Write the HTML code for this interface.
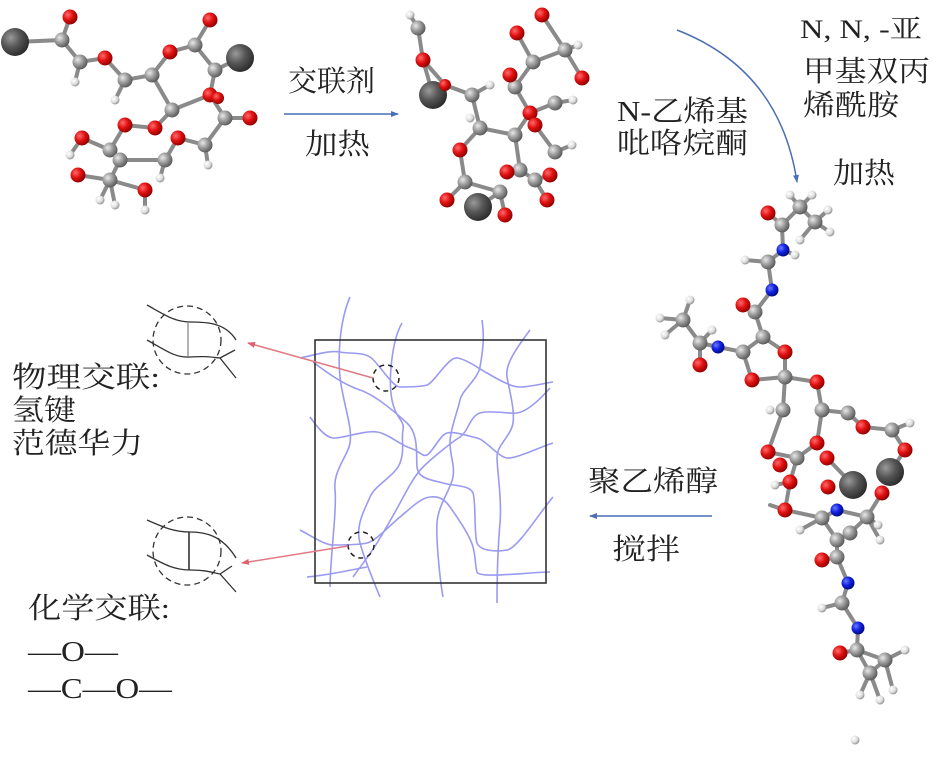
<!DOCTYPE html>
<html><head><meta charset="utf-8"><style>
html,body{margin:0;padding:0;background:#fff}
svg{display:block}
text{font-family:"Liberation Serif","Noto Serif CJK SC",serif;fill:#222}
</style></head><body>
<svg width="947" height="761" viewBox="0 0 947 761" xmlns="http://www.w3.org/2000/svg">
<defs>
<radialGradient id="gO" cx="35%" cy="35%" r="70%"><stop offset="0" stop-color="#ff6b6b"/><stop offset="0.5" stop-color="#e01010"/><stop offset="1" stop-color="#8a0000"/></radialGradient>
<radialGradient id="gC" cx="35%" cy="35%" r="70%"><stop offset="0" stop-color="#e8e8e8"/><stop offset="0.5" stop-color="#9a9a9a"/><stop offset="1" stop-color="#555"/></radialGradient>
<radialGradient id="gB" cx="35%" cy="35%" r="70%"><stop offset="0" stop-color="#999"/><stop offset="0.5" stop-color="#555"/><stop offset="1" stop-color="#2a2a2a"/></radialGradient>
<radialGradient id="gH" cx="35%" cy="35%" r="70%"><stop offset="0" stop-color="#fff"/><stop offset="0.6" stop-color="#ddd"/><stop offset="1" stop-color="#888"/></radialGradient>
<radialGradient id="gN" cx="35%" cy="35%" r="70%"><stop offset="0" stop-color="#6b7bff"/><stop offset="0.5" stop-color="#1020e0"/><stop offset="1" stop-color="#00087a"/></radialGradient>
<marker id="ab" markerWidth="8" markerHeight="8" refX="7" refY="4" orient="auto" markerUnits="userSpaceOnUse"><path d="M0,1 L8,4 L0,7 z" fill="#4a6fb5"/></marker>
<marker id="ar" markerWidth="8" markerHeight="8" refX="7" refY="4" orient="auto" markerUnits="userSpaceOnUse"><path d="M0,1 L8,4 L0,7 z" fill="#e06070"/></marker>
</defs>

<!-- Molecule 1 -->
<g stroke="#8a8a8a" stroke-width="4" stroke-linecap="round">
<polyline fill="none" points="15,42 62,40 70,17"/>
<polyline fill="none" points="62,40 80,62 105,58 125,80 152,75 170,52 195,45 210,20"/>
<polyline fill="none" points="195,45 215,70 240,58"/>
<polyline fill="none" points="215,70 210,95 225,118 250,118"/>
<polyline fill="none" points="152,75 172,110 155,128 125,125 110,150 82,138"/>
<polyline fill="none" points="172,110 210,95"/>
<polyline fill="none" points="225,118 205,145 178,138 165,160 120,160 110,150"/>
<polyline fill="none" points="120,160 110,180 78,175"/>
<polyline fill="none" points="110,180 145,190"/>
<line x1="80" y1="62" x2="75" y2="82"/><line x1="125" y1="80" x2="115" y2="100"/><line x1="205" y1="145" x2="208" y2="165"/><line x1="165" y1="160" x2="160" y2="178"/><line x1="110" y1="180" x2="100" y2="200"/><line x1="110" y1="180" x2="115" y2="205"/><line x1="82" y1="138" x2="70" y2="155"/><line x1="145" y1="190" x2="145" y2="210"/>
</g>
<g>
<circle cx="15" cy="42" r="14" fill="url(#gB)"/><circle cx="240" cy="58" r="14" fill="url(#gB)"/>
<g fill="url(#gH)"><circle cx="75" cy="82" r="4.5"/><circle cx="115" cy="100" r="4.5"/><circle cx="208" cy="165" r="4.5"/><circle cx="160" cy="178" r="4.5"/><circle cx="100" cy="200" r="4.5"/><circle cx="115" cy="205" r="4.5"/><circle cx="70" cy="155" r="4.5"/><circle cx="145" cy="210" r="4.5"/></g>
<g fill="url(#gC)"><circle cx="62" cy="40" r="7.5"/><circle cx="80" cy="62" r="7.5"/><circle cx="125" cy="80" r="7.5"/><circle cx="152" cy="75" r="7.5"/><circle cx="195" cy="45" r="7.5"/><circle cx="215" cy="70" r="7.5"/><circle cx="225" cy="118" r="7.5"/><circle cx="172" cy="110" r="7.5"/><circle cx="110" cy="150" r="7.5"/><circle cx="120" cy="160" r="7.5"/><circle cx="165" cy="160" r="7.5"/><circle cx="205" cy="145" r="7.5"/><circle cx="110" cy="180" r="7.5"/></g>
<g fill="url(#gO)"><circle cx="70" cy="17" r="7.5"/><circle cx="105" cy="58" r="7.5"/><circle cx="170" cy="52" r="7.5"/><circle cx="210" cy="20" r="7.5"/><circle cx="210" cy="95" r="7.5"/><circle cx="250" cy="118" r="7.5"/><circle cx="155" cy="128" r="7.5"/><circle cx="125" cy="125" r="7.5"/><circle cx="82" cy="138" r="7.5"/><circle cx="178" cy="138" r="7.5"/><circle cx="78" cy="175" r="7.5"/><circle cx="145" cy="190" r="7.5"/><circle cx="218" cy="98" r="6"/></g>
</g>

<!-- Molecule 2 -->
<g stroke="#8a8a8a" stroke-width="4" stroke-linecap="round">
<polyline fill="none" points="410,15 418,28 423,60 433,95"/>
<polyline fill="none" points="423,60 445,85 472,95 490,85"/>
<polyline fill="none" points="472,95 480,128 460,150 465,182 447,200"/>
<polyline fill="none" points="465,182 500,192 505,215"/>
<polyline fill="none" points="500,192 478,207"/>
<polyline fill="none" points="480,128 515,135 530,113 515,87 510,75"/>
<polyline fill="none" points="515,87 533,62 517,33"/>
<polyline fill="none" points="533,62 565,50 542,15"/>
<polyline fill="none" points="565,50 582,78"/><line x1="565" y1="50" x2="578" y2="45"/>
<polyline fill="none" points="530,113 555,103 573,100"/>
<polyline fill="none" points="535,125 555,152 572,145"/>
<polyline fill="none" points="515,135 520,170 535,180 550,175"/>
<polyline fill="none" points="535,180 547,200"/><line x1="520" y1="170" x2="507" y2="172"/>
</g>
<g>
<circle cx="433" cy="95" r="14" fill="url(#gB)"/><circle cx="478" cy="207" r="14" fill="url(#gB)"/>
<g fill="url(#gH)"><circle cx="410" cy="15" r="4.5"/><circle cx="490" cy="85" r="4.5"/><circle cx="578" cy="45" r="4.5"/><circle cx="573" cy="100" r="4.5"/><circle cx="572" cy="145" r="4.5"/><circle cx="470" cy="118" r="4.5"/></g>
<g fill="url(#gC)"><circle cx="418" cy="28" r="7.5"/><circle cx="472" cy="95" r="7.5"/><circle cx="480" cy="128" r="7.5"/><circle cx="515" cy="87" r="7.5"/><circle cx="533" cy="62" r="7.5"/><circle cx="565" cy="50" r="7.5"/><circle cx="555" cy="103" r="7.5"/><circle cx="515" cy="135" r="7.5"/><circle cx="555" cy="152" r="7.5"/><circle cx="465" cy="182" r="7.5"/><circle cx="500" cy="192" r="7.5"/><circle cx="520" cy="170" r="7.5"/><circle cx="535" cy="180" r="7.5"/></g>
<g fill="url(#gO)"><circle cx="423" cy="60" r="7.5"/><circle cx="445" cy="85" r="6"/><circle cx="510" cy="75" r="7.5"/><circle cx="517" cy="33" r="7.5"/><circle cx="542" cy="15" r="7.5"/><circle cx="582" cy="78" r="7.5"/><circle cx="530" cy="113" r="7.5"/><circle cx="535" cy="125" r="7.5"/><circle cx="460" cy="150" r="7.5"/><circle cx="447" cy="200" r="7.5"/><circle cx="505" cy="215" r="7.5"/><circle cx="507" cy="172" r="7.5"/><circle cx="550" cy="175" r="7.5"/><circle cx="547" cy="200" r="7.5"/></g>
</g>

<!-- Molecule 3 -->
<g stroke="#8a8a8a" stroke-width="4" stroke-linecap="round" fill="none">
<polyline points="768,213 782,225 800,207 815,222 800,240"/>
<line x1="800" y1="207" x2="790" y2="195"/><line x1="800" y1="207" x2="812" y2="195"/><line x1="815" y1="222" x2="828" y2="210"/><line x1="815" y1="222" x2="830" y2="232"/>
<polyline points="782,225 783,250 768,262 745,260"/><line x1="783" y1="250" x2="795" y2="255"/>
<polyline points="768,262 772,290 755,312 743,305"/>
<polyline points="755,312 763,337 743,352 718,347 700,343 683,320"/>
<line x1="700" y1="343" x2="700" y2="365"/><line x1="683" y1="320" x2="660" y2="318"/><line x1="683" y1="320" x2="690" y2="300"/><line x1="683" y1="320" x2="665" y2="335"/><line x1="700" y1="343" x2="712" y2="330"/>
<polyline points="743,352 752,380 785,377 785,352 763,337"/>
<polyline points="785,377 817,382 822,410 848,413 863,427 892,430 905,450 890,472"/>
<line x1="892" y1="430" x2="910" y2="423"/>
<polyline points="785,377 783,410 768,452 797,458 817,443 822,410"/>
<polyline points="797,458 790,482 785,510 822,518 837,510 867,517 850,533 837,540 822,518"/>
<polyline points="827,458 853,485"/><polyline points="882,493 867,517"/>
<polyline points="837,540 837,557 822,560"/><polyline points="837,557 848,583 842,603 822,608"/>
<polyline points="842,603 858,628 857,650 840,653"/>
<polyline points="857,650 885,660 870,673 857,650"/>
<line x1="885" y1="660" x2="905" y2="650"/><line x1="885" y1="660" x2="893" y2="690"/><line x1="870" y1="673" x2="860" y2="695"/><line x1="870" y1="673" x2="880" y2="700"/>
<line x1="790" y1="482" x2="775" y2="485"/><line x1="785" y1="510" x2="770" y2="505"/>
<line x1="867" y1="517" x2="880" y2="540"/><line x1="867" y1="517" x2="878" y2="525"/><line x1="822" y1="518" x2="800" y2="530"/>
</g>
<g>
<circle cx="853" cy="485" r="14" fill="url(#gB)"/><circle cx="890" cy="472" r="14" fill="url(#gB)"/>
<g fill="url(#gH)"><circle cx="790" cy="195" r="4.5"/><circle cx="812" cy="195" r="4.5"/><circle cx="828" cy="210" r="4.5"/><circle cx="830" cy="232" r="4.5"/><circle cx="800" cy="240" r="4.5"/><circle cx="795" cy="255" r="4.5"/><circle cx="745" cy="260" r="4.5"/><circle cx="660" cy="318" r="4.5"/><circle cx="690" cy="300" r="4.5"/><circle cx="665" cy="335" r="4.5"/><circle cx="712" cy="330" r="4.5"/><circle cx="910" cy="423" r="4.5"/><circle cx="880" cy="540" r="4.5"/><circle cx="878" cy="525" r="4.5"/><circle cx="800" cy="530" r="4.5"/><circle cx="822" cy="608" r="4.5"/><circle cx="905" cy="650" r="4.5"/><circle cx="893" cy="690" r="4.5"/><circle cx="860" cy="695" r="4.5"/><circle cx="880" cy="700" r="4.5"/><circle cx="775" cy="485" r="4.5"/><circle cx="770" cy="410" r="4.5"/><circle cx="855" cy="740" r="4.5"/></g>
<g fill="url(#gC)"><circle cx="782" cy="225" r="7.5"/><circle cx="800" cy="207" r="7.5"/><circle cx="815" cy="222" r="7.5"/><circle cx="768" cy="262" r="7.5"/><circle cx="755" cy="312" r="7.5"/><circle cx="763" cy="337" r="7.5"/><circle cx="743" cy="352" r="7.5"/><circle cx="700" cy="343" r="7.5"/><circle cx="683" cy="320" r="7.5"/><circle cx="785" cy="377" r="7.5"/><circle cx="783" cy="410" r="7.5"/><circle cx="822" cy="410" r="7.5"/><circle cx="848" cy="413" r="7.5"/><circle cx="892" cy="430" r="7.5"/><circle cx="797" cy="458" r="7.5"/><circle cx="822" cy="518" r="7.5"/><circle cx="867" cy="517" r="7.5"/><circle cx="850" cy="533" r="7.5"/><circle cx="837" cy="540" r="7.5"/><circle cx="837" cy="557" r="7.5"/><circle cx="842" cy="603" r="7.5"/><circle cx="857" cy="650" r="7.5"/><circle cx="885" cy="660" r="7.5"/><circle cx="870" cy="673" r="7.5"/></g>
<g fill="url(#gO)"><circle cx="768" cy="213" r="7.5"/><circle cx="743" cy="305" r="7.5"/><circle cx="700" cy="365" r="7.5"/><circle cx="752" cy="380" r="7.5"/><circle cx="785" cy="352" r="7.5"/><circle cx="817" cy="382" r="7.5"/><circle cx="863" cy="427" r="7.5"/><circle cx="905" cy="450" r="7.5"/><circle cx="882" cy="493" r="7.5"/><circle cx="768" cy="452" r="7.5"/><circle cx="817" cy="443" r="7.5"/><circle cx="827" cy="458" r="7.5"/><circle cx="790" cy="482" r="7.5"/><circle cx="828" cy="487" r="7.5"/><circle cx="785" cy="510" r="7.5"/><circle cx="780" cy="465" r="7.5"/><circle cx="822" cy="560" r="7.5"/><circle cx="840" cy="653" r="7.5"/></g>
<g fill="url(#gN)"><circle cx="783" cy="250" r="6.5"/><circle cx="772" cy="290" r="6.5"/><circle cx="718" cy="347" r="6.5"/><circle cx="837" cy="510" r="6.5"/><circle cx="848" cy="583" r="6.5"/><circle cx="858" cy="628" r="6.5"/></g>
</g>

<!-- Arrows -->
<line x1="284" y1="114" x2="398" y2="114" stroke="#4a6fb5" stroke-width="1.5" marker-end="url(#ab)"/>
<path d="M677,30 Q780,70 797,182" stroke="#4a6fb5" stroke-width="1.5" fill="none" marker-end="url(#ab)"/>
<line x1="712" y1="516" x2="590" y2="516" stroke="#4a6fb5" stroke-width="1.5" marker-end="url(#ab)"/>

<!-- Network -->
<g fill="none" stroke="#9a9af0" stroke-width="1.6">
<path d="M350,297 C340,320 336,360 342,390 S352,430 350,443 S333,470 335,490 S330,560 330,587"/>
<path d="M402,323 C392,340 388,380 392,400 S405,420 403,430 S405,450 400,463 S375,485 370,497 S355,525 360,543 S375,585 380,597"/>
<path d="M482,320 C485,340 482,355 480,367 S462,390 460,400 S450,430 450,443 S455,465 453,477 S438,505 437,523 S440,580 443,597"/>
<path d="M530,330 C515,350 505,365 507,377 S515,410 513,423 S497,445 497,457 S502,500 500,523 S497,580 497,603"/>
<path d="M300,358 C315,355 330,350 340,352 S362,352 370,357 S392,387 400,387 S420,387 427,385 S448,357 457,358 S478,368 487,373 S510,387 520,387 S545,383 553,382"/>
<path d="M310,417 C318,428 325,437 333,438 S365,430 377,432 S400,445 410,448 S422,457 427,455 S440,435 447,433 S468,436 477,438 S498,457 507,458 S540,447 553,443"/>
<path d="M313,362 C330,375 345,385 360,390 S395,412 407,423 S416,455 417,467 S432,480 443,483 S470,485 473,493 S474,535 477,543 S496,552 507,550 S540,512 553,497"/>
<path d="M550,388 C535,405 525,412 517,413 S490,410 480,413 S468,432 460,437 S432,458 423,467 S406,492 400,503 S385,530 377,543 S360,567 353,577"/>
<path d="M300,530 C315,538 325,545 333,545 S358,545 367,543 S390,525 400,517 S420,498 430,497 S445,500 450,507 S470,535 473,547 S475,565 477,572 S530,572 550,572"/>
<path d="M307,577 C330,575 350,570 367,567"/>
</g>
<rect x="315" y="340" width="231" height="243" fill="none" stroke="#333" stroke-width="1.6"/>
<circle cx="386" cy="378" r="13" fill="none" stroke="#222" stroke-width="1.5" stroke-dasharray="5,4"/>
<circle cx="361" cy="545" r="13" fill="none" stroke="#222" stroke-width="1.5" stroke-dasharray="5,4"/>
<line x1="373" y1="378" x2="248" y2="343" stroke="#e07a85" stroke-width="1.5" marker-end="url(#ar)"/>
<line x1="348" y1="546" x2="242" y2="563" stroke="#e07a85" stroke-width="1.5" marker-end="url(#ar)"/>

<!-- Detail circles -->
<g fill="none" stroke="#333" stroke-width="1.3">
<circle cx="187" cy="340" r="34" stroke-dasharray="6,4"/>
<path d="M147,305 C165,315 175,322 190,322 S225,322 236,340"/>
<path d="M147,340 C165,350 175,358 190,357 S210,357 220,358 L236,378"/>
<line x1="220" y1="358" x2="235" y2="350"/>
<line x1="188" y1="322" x2="188" y2="357" stroke="#888"/>
<circle cx="187" cy="551" r="34" stroke-dasharray="6,4"/>
<path d="M147,520 C165,528 175,532 190,532 S222,535 236,558"/>
<path d="M147,555 C165,565 175,570 190,570 S210,572 220,574 L236,592"/>
<line x1="220" y1="574" x2="232" y2="566"/>
<line x1="189" y1="532" x2="189" y2="570" stroke-width="1.6"/>
</g>

<!-- Text -->
<g font-size="29" lengthAdjust="spacingAndGlyphs">
<text x="288" y="91" textLength="87" lengthAdjust="spacingAndGlyphs">交联剂</text>
<text x="305" y="154" textLength="65" lengthAdjust="spacingAndGlyphs">加热</text>
<text x="617" y="121" textLength="131" lengthAdjust="spacingAndGlyphs">N-乙烯基</text>
<text x="617" y="153" textLength="131" lengthAdjust="spacingAndGlyphs">吡咯烷酮</text>
<text x="800" y="38" textLength="122" lengthAdjust="spacingAndGlyphs" font-size="26">N, N, -亚</text>
<text x="803" y="81" textLength="127" lengthAdjust="spacingAndGlyphs">甲基双丙</text>
<text x="803" y="115" textLength="96" lengthAdjust="spacingAndGlyphs">烯酰胺</text>
<text x="833" y="183" textLength="62" lengthAdjust="spacingAndGlyphs">加热</text>
<text x="588" y="491" textLength="130" lengthAdjust="spacingAndGlyphs">聚乙烯醇</text>
<text x="612" y="559" textLength="68" lengthAdjust="spacingAndGlyphs">搅拌</text>
<text x="12" y="387" textLength="148" lengthAdjust="spacingAndGlyphs">物理交联:</text>
<text x="12" y="420" textLength="64" lengthAdjust="spacingAndGlyphs">氢键</text>
<text x="12" y="453" textLength="131" lengthAdjust="spacingAndGlyphs">范德华力</text>
<text x="28" y="618" textLength="142" lengthAdjust="spacingAndGlyphs">化学交联:</text>
<text x="28" y="661" textLength="90" lengthAdjust="spacingAndGlyphs">—O—</text>
<text x="28" y="698" textLength="144" lengthAdjust="spacingAndGlyphs">—C—O—</text>
</g>
</svg>
</body></html>
